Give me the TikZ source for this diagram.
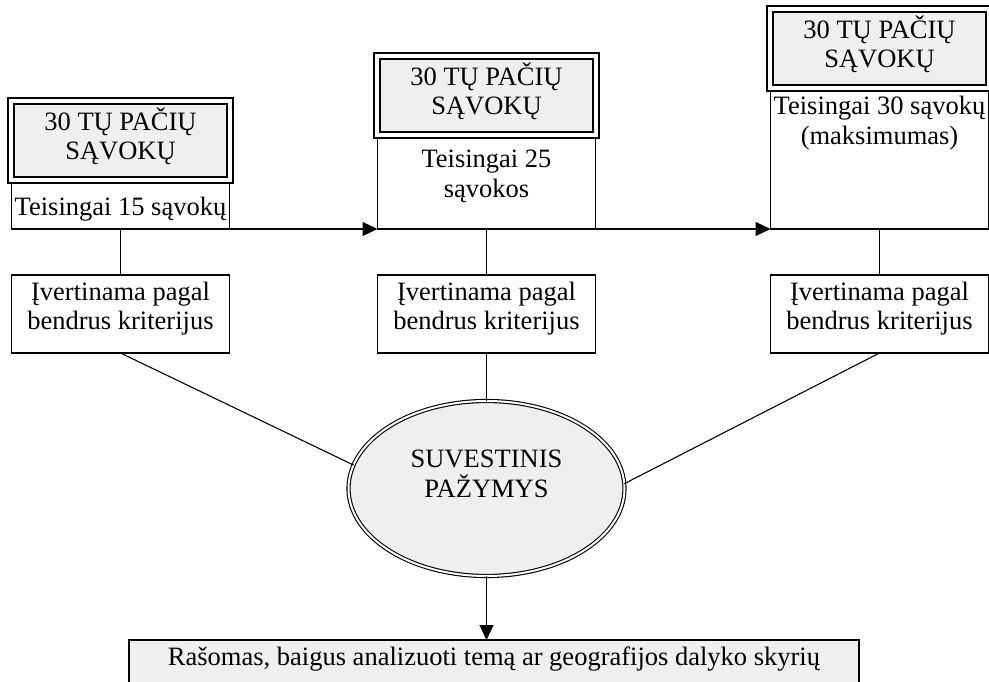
\documentclass[tikz,border=0pt]{standalone}
\usepackage{fontspec}
\setmainfont{Liberation Serif}
\usetikzlibrary{positioning,fit,shapes.geometric,arrows.meta}
\definecolor{boxgray}{HTML}{EFEFEF}
\tikzset{
  every node/.style={outer sep=0pt, inner ysep=0pt, inner xsep=0pt, align=center,
    font=\fontsize{26.5}{29.5}\selectfont},
  box/.style={draw, line width=1.1pt, minimum width=218pt},
  head/.style={draw, line width=2.6pt, fill=boxgray, minimum width=213pt,
    text height=56pt, text depth=17pt},
  frame/.style={draw, line width=1.1pt, inner sep=6pt},
  arr/.style={-{Triangle[length=15pt,width=14pt]}},
}
\begin{document}
\begin{tikzpicture}[x=1pt,y=-1pt]
  \useasboundingbox (0,0) rectangle (989,682);
  \node[box, anchor=south, text height=32pt, text depth=14pt] (t1) at (120.5,229) {Teisingai 15 sąvokų};
  \node[box, anchor=south, text height=59.5pt, text depth=31.5pt] (t2) at (486.5,229) {Teisingai 25\\sąvokos};
  \node[box, anchor=south, text height=53.5pt, text depth=84.5pt] (t3) at (879.5,229) {Teisingai 30 sąvokų\\(maksimumas)};
  \foreach \i in {1,2,3} {
    \node[head, above=6pt of t\i] (h\i) {30 TŲ PAČIŲ\\SĄVOKŲ};
    \node[frame, fit=(h\i)] (f\i) {};
    \node[box, below=46pt of t\i, text height=54.5pt, text depth=23.5pt] (e\i) {Įvertinama pagal\\bendrus kriterijus};
  }
  \node[ellipse, draw, line width=1.1pt, double=white, double distance=2pt, fill=boxgray,
    minimum width=276pt, minimum height=175pt, text height=47.5pt, text depth=30.5pt]
    (s) at (486.5,488.5) {SUVESTINIS\\PAŽYMYS};
  \node[box, fill=boxgray, minimum width=730pt, anchor=north, text height=25pt, text depth=30pt]
    (r) at (494,640) {Rašomas, baigus analizuoti temą ar geografijos dalyko skyrių};
  \begin{scope}[line width=1.1pt]
    \draw[arr] (t1.south east) -- (t2.south west);
    \draw[arr] (t2.south east) -- (t3.south west);
    \foreach \i in {1,2,3}
      \draw (t\i) -- (e\i);
    \draw (e1.south) -- (s.170);
    \draw (e2) -- (s);
    \draw (e3.south) -- (s.2);
    \draw[arr] (s.south) -- (s.south |- r.north);
  \end{scope}
\end{tikzpicture}
\end{document}
